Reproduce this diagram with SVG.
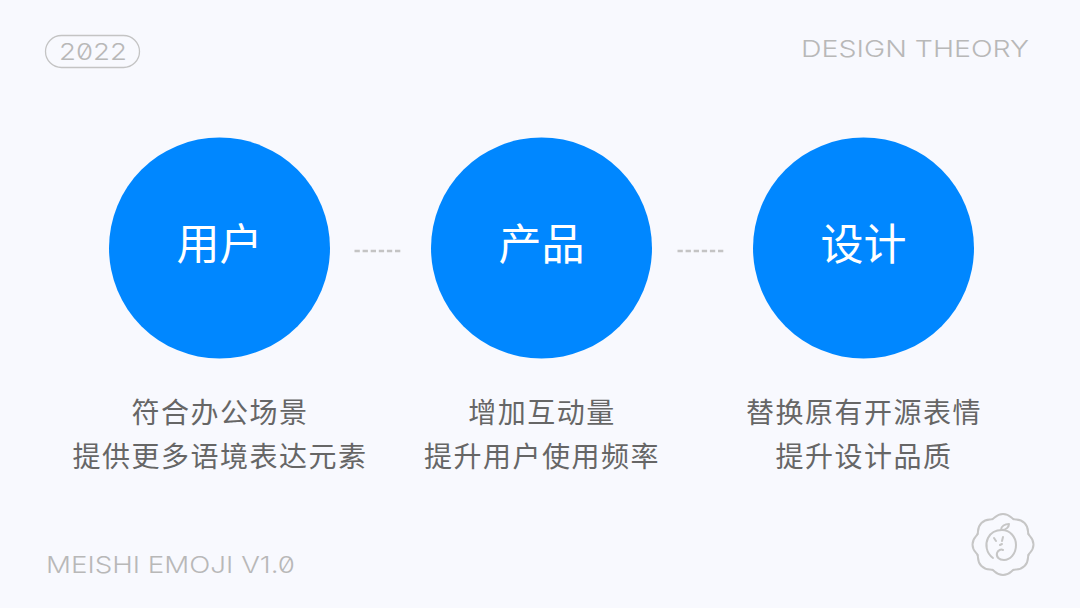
<svg xmlns="http://www.w3.org/2000/svg" width="1080" height="608" viewBox="0 0 1080 608">
<style>
.c{fill:#0087ff}
.t{font-family:"Noto Sans CJK SC","Noto Sans",sans-serif;text-anchor:middle}
.h{fill:#fff;font-size:43px;font-weight:400}
.b{fill:#666;font-size:28px;font-weight:400;letter-spacing:1.500px}
.l{font-family:"Inter","Liberation Sans",sans-serif;fill:#b8b8b8;font-size:23px;font-weight:300;font-feature-settings:"zero"}
.d{stroke:#c4c4c4;stroke-width:2.400;stroke-dasharray:5.300 2.800;fill:none}
.m{fill:none;stroke:#c6c6c6;stroke-width:2;stroke-linecap:round;stroke-linejoin:round}
</style>
<defs><path id="lobe" d="M25.400 -10.500C26.400 -8.200 30.500 -6.500 30.500 0C30.500 6.500 26.400 8.200 25.400 10.500"/></defs>
<rect width="1080" height="608" fill="#f8f9fe"/>
<g id="badge"><rect x="45.500" y="35.500" width="94" height="32" rx="16" fill="none" stroke="#c4c4c4" stroke-width="1.300"/><text x="59" y="60" class="l" textLength="68" lengthAdjust="spacingAndGlyphs">2022</text></g>
<text id="title" x="801" y="57" class="l" textLength="228" lengthAdjust="spacingAndGlyphs">DESIGN THEORY</text>
<text id="footer" x="46" y="573" class="l" textLength="249" lengthAdjust="spacingAndGlyphs">MEISHI EMOJI V1.0</text>
<g id="connectors"><path class="d" d="M354.500 251H401"/><path class="d" d="M677.500 251H724"/></g>
<g id="n1"><circle class="c" cx="219.500" cy="248" r="110.500"/><text class="t h" x="219.500" y="260">用户</text></g>
<g id="n2"><circle class="c" cx="541.500" cy="248" r="110.500"/><text class="t h" x="541.500" y="260">产品</text></g>
<g id="n3"><circle class="c" cx="863.500" cy="248" r="110.500"/><text class="t h" x="863.500" y="260">设计</text></g>
<g id="d1"><text class="t b" x="220" y="423">符合办公场景</text><text class="t b" x="220" y="467">提供更多语境表达元素</text></g>
<g id="d2"><text class="t b" x="542" y="423">增加互动量</text><text class="t b" x="542" y="467">提升用户使用频率</text></g>
<g id="d3"><text class="t b" x="864" y="423">替换原有开源表情</text><text class="t b" x="864" y="467">提升设计品质</text></g>
<g id="logo" class="m">
<g transform="translate(1003 544.500)"><use href="#lobe"/><use href="#lobe" transform="rotate(45)"/><use href="#lobe" transform="rotate(90)"/><use href="#lobe" transform="rotate(135)"/><use href="#lobe" transform="rotate(180)"/><use href="#lobe" transform="rotate(225)"/><use href="#lobe" transform="rotate(270)"/><use href="#lobe" transform="rotate(315)"/></g>
<path d="M993 558C986 553 985 544 988 538C991 532 997 530 1002 530C1010 530 1016 537 1016 545C1016 554 1010 560 1004 560C999 560 996 557 997 553C998 550 1001 549 1003 550"/>
<path d="M1001 530C1001 526 1005 524 1009 524C1009 527 1006 530 1002 530"/>
<path d="M994 538L996 541M1003 537L1002 541M1000 545L1002 544"/>
</g>
</svg>
